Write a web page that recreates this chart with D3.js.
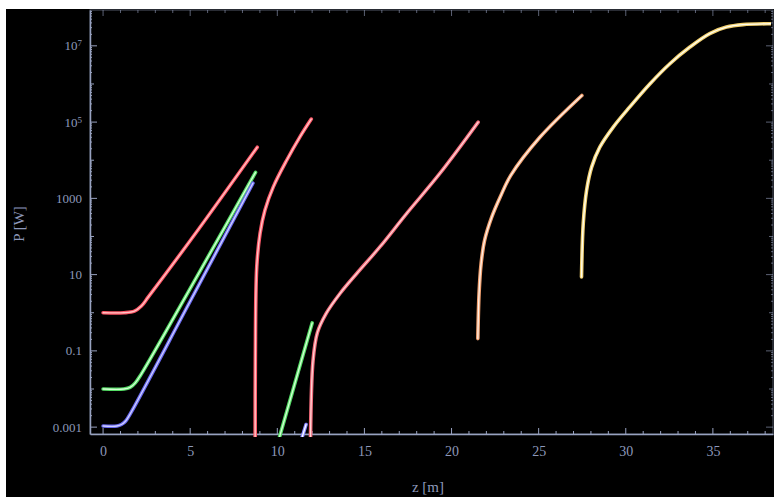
<!DOCTYPE html>
<html>
<head>
<meta charset="utf-8">
<script src="https://cdn.jsdelivr.net/npm/d3@7"></script>
<style>
  html, body { margin: 0; padding: 0; background: #fff; }
  svg { display: block; }
</style>
</head>
<body>
<div id="chart"></div>
<script>
// z positions (m) and powers (W), one pair of arrays per curve
const zRed1 = [0, 1.2, 1.8, 2.2, 2.6, 5.5, 8.85];
const pRed1 = [1, 1, 1.1, 1.5, 2.6, 160, 2.2e4];

const zGreen1 = [0, 1.2, 1.55, 1.85, 2.2, 5.5, 8.75];
const pGreen1 = [0.01, 0.01, 0.011, 0.0145, 0.025, 11, 4800];

const zBlue1 = [0, 0.8, 1.05, 1.3, 1.6, 5, 8.6];
const pBlue1 = [0.00107, 0.00107, 0.00117, 0.00145, 0.0024, 2.0, 2500];

const zRed2 = [8.73, 8.74, 8.82, 9.01, 9.29, 9.77, 10.54, 11.3, 11.95];
const pRed2 = [3e-4, 0.06, 16, 120, 490, 2000, 1e4, 4.1e4, 1.2e5];

const zGreen2 = [10.1, 12.0];
const pGreen2 = [5e-4, 0.54];

const zBlue2 = [11.4, 11.65];
const pBlue2 = [5e-4, 0.00117];

const zRed3 = [11.9, 12.05, 12.3, 12.8, 13.6, 14.56, 15.9, 17.42, 19.33, 21.53];
const pRed3 = [3e-4, 0.055, 0.3, 0.95, 3.2, 10.7, 54, 400, 4500, 1e5];

const zOrange = [21.51, 21.58, 21.7, 21.9, 22.3, 22.8, 23.4, 25.07, 27.48];
const pOrange = [0.21, 3.2, 20, 80, 316, 1100, 4000, 4e4, 5e5];

const zYellow = [27.46, 27.56, 27.75, 28.04, 28.51, 29.28, 30.23, 31.38, 32.53, 33.68, 34.82, 35.78, 36.72, 38.27, 38.6];
const pYellow = [8.7, 220, 1600, 6600, 2.2e4, 7.4e4, 2.5e5, 1e6, 3.4e6, 9.3e6, 2.1e7, 3.1e7, 3.6e7, 3.8e7, 3.8e7];

const xTicks = [0, 5, 10, 15, 20, 25, 30, 35];
const yTicks = [1e-3, 1e-1, 10, 1000, 1e5, 1e7];
const yTickLabels = ["0.001", "0.1", "10", "1000", "10^5", "10^7"];

const curves = [
  { z: zRed1, p: pRed1, color: "#ff5566", core: "#ffc4c4" },
  { z: zGreen1, p: pGreen1, color: "#55dd66", core: "#d4ffd4" },
  { z: zBlue1, p: pBlue1, color: "#6a6af0", core: "#cfcfff" },
  { z: zRed2, p: pRed2, color: "#ff5a6a", core: "#ffcaca" },
  { z: zGreen2, p: pGreen2, color: "#55dd66", core: "#d4ffd4" },
  { z: zBlue2, p: pBlue2, color: "#8888ff", core: "#ffffff" },
  { z: zRed3, p: pRed3, color: "#f06a7a", core: "#ffd6d6" },
  { z: zOrange, p: pOrange, color: "#f0a070", core: "#fff0e6" },
  { z: zYellow, p: pYellow, color: "#f2d070", core: "#fffff2" }
];

const W = 774, H = 497;
const svg = d3.select("#chart").append("svg").attr("width", W).attr("height", H);

// black picture area, white strips at top and left
svg.append("rect").attr("x", 6).attr("y", 9).attr("width", W - 6).attr("height", H - 9).attr("fill", "#000");

const mLeft = 90, mRight = 773, mTop = 10, mBottom = 434;
const x = d3.scaleLinear().domain([-0.75, 38.45]).range([mLeft, mRight]);
const y = d3.scaleLog().domain([Math.pow(10, -3.18), Math.pow(10, 7.94)]).range([mBottom, mTop]);

const axisColor = "#98a2c0";
const labelColor = "#8d98ba";
const font = "'Liberation Serif', 'DejaVu Serif', serif";

// frame
svg.append("rect").attr("x", mLeft).attr("y", mTop).attr("width", mRight - mLeft).attr("height", mBottom - mTop)
  .attr("fill", "none").attr("stroke", axisColor).attr("stroke-opacity", 0.55).attr("stroke-width", 1);

// x axis, ticks inward, minor every metre
const xAxis = svg.append("g").attr("transform", `translate(0,${mBottom})`)
  .call(d3.axisBottom(x).tickValues(xTicks).tickSize(0).tickPadding(12).tickFormat(d3.format("d")));
xAxis.select(".domain").attr("stroke", axisColor).attr("stroke-width", 1.5);
xAxis.selectAll("text").attr("fill", labelColor).style("font-family", font).style("font-size", "14px");

const xMinor = d3.range(0, 39);
svg.append("g").selectAll("line").data(xMinor).join("line")
  .attr("x1", d => x(d)).attr("x2", d => x(d))
  .attr("y1", mBottom).attr("y2", d => mBottom - (d % 5 === 0 ? 6 : 3))
  .attr("stroke", axisColor).attr("stroke-width", 1);
svg.append("g").selectAll("line").data(xMinor).join("line")
  .attr("x1", d => x(d)).attr("x2", d => x(d))
  .attr("y1", mTop).attr("y2", d => mTop + (d % 5 === 0 ? 6 : 3))
  .attr("stroke", axisColor).attr("stroke-opacity", 0.6).attr("stroke-width", 1);

// y axis
const yAxis = svg.append("g").attr("transform", `translate(${mLeft},0)`)
  .call(d3.axisLeft(y).tickValues(yTicks).tickSize(0).tickPadding(8).tickFormat(() => ""));
yAxis.select(".domain").attr("stroke", axisColor).attr("stroke-width", 1.5);

const yLabels = svg.append("g").selectAll("text").data(yTicks).join("text")
  .attr("x", mLeft - 8).attr("y", d => y(d)).attr("dy", "0.35em")
  .attr("text-anchor", "end").attr("fill", labelColor)
  .style("font-family", font).style("font-size", "13px");
yLabels.each(function(d, i) {
  const t = d3.select(this), lab = yTickLabels[i];
  if (lab.startsWith("10^")) {
    t.append("tspan").text("10");
    t.append("tspan").attr("dy", "-0.45em").style("font-size", "9px").text(lab.slice(3));
  } else {
    t.text(lab);
  }
});

const yMinor = [];
for (let e = -3; e <= 7; e++) {
  for (let m = 1; m < 10; m++) yMinor.push({ v: m * Math.pow(10, e), major: m === 1 && (e + 3) % 2 === 0, dec: m === 1 });
}
const yDom = y.domain();
const yMinorIn = yMinor.filter(d => d.v >= yDom[0] && d.v <= yDom[1]);
svg.append("g").selectAll("line").data(yMinorIn).join("line")
  .attr("x1", mLeft).attr("x2", d => mLeft + (d.major ? 7 : d.dec ? 4 : 2))
  .attr("y1", d => y(d.v)).attr("y2", d => y(d.v))
  .attr("stroke", axisColor).attr("stroke-width", 1);
svg.append("g").selectAll("line").data(yMinorIn).join("line")
  .attr("x1", mRight).attr("x2", d => mRight - (d.major ? 7 : d.dec ? 4 : 2))
  .attr("y1", d => y(d.v)).attr("y2", d => y(d.v))
  .attr("stroke", axisColor).attr("stroke-opacity", 0.6).attr("stroke-width", 1);

// axis titles
svg.append("text").attr("transform", "translate(24,224) rotate(-90)")
  .attr("text-anchor", "middle").attr("fill", labelColor)
  .style("font-family", font).style("font-size", "15px").text("P [W]");
svg.append("text").attr("x", 428).attr("y", 492)
  .attr("text-anchor", "middle").attr("fill", labelColor)
  .style("font-family", font).style("font-size", "15px").text("z [m]");

// curves
svg.append("defs").append("clipPath").attr("id", "plotclip")
  .append("rect").attr("x", mLeft).attr("y", mTop).attr("width", mRight - mLeft - 2).attr("height", mBottom - mTop + 3);

const line = d3.line().x(d => x(d[0])).y(d => y(d[1])).curve(d3.curveCatmullRom.alpha(0.5));
const gc = svg.append("g").attr("clip-path", "url(#plotclip)");

curves.forEach(c => {
  const pts = c.z.map((z, i) => [z, c.p[i]]);
  gc.append("path").attr("d", line(pts)).attr("fill", "none")
    .attr("stroke", c.color).attr("stroke-width", 3.6).attr("stroke-linecap", "round");
  gc.append("path").attr("d", line(pts)).attr("fill", "none")
    .attr("stroke", c.core).attr("stroke-width", 1.3).attr("stroke-linecap", "round");
});
</script>
</body>
</html>
